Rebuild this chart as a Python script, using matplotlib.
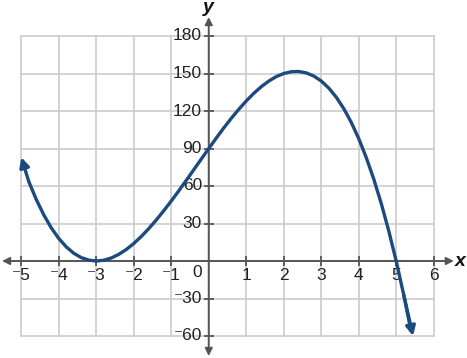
import matplotlib
matplotlib.use("Agg")
import matplotlib.pyplot as plt

plt.rcParams['font.family'] = ['Liberation Sans', 'DejaVu Sans']

# curve points
x_vals = [-5.0, -4.8, -4.6, -4.4, -4.2, -4.0, -3.8, -3.6, -3.4, -3.2, -3.0,
          -2.8, -2.6, -2.4, -2.2, -2.0, -1.8, -1.6, -1.4, -1.2, -1.0,
          -0.8, -0.6, -0.4, -0.2, 0.0, 0.2, 0.4, 0.6, 0.8, 1.0,
          1.2, 1.4, 1.6, 1.8, 2.0, 2.2, 2.4, 2.6, 2.8, 3.0,
          3.2, 3.4, 3.6, 3.8, 4.0, 4.2, 4.4, 4.6, 4.8, 5.0,
          5.2, 5.4, 5.45]
y_vals = [83, 63.5, 49.2, 36.9, 26.5, 18, 11.3, 6.2, 2.7, 0.7, 0,
          0.6, 2.4, 5.3, 9.2, 14, 19.6, 25.9, 32.8, 40.2, 48,
          56.1, 64.5, 73.0, 81.5, 90, 98.3, 106.4, 114.1, 121.3, 128,
          134.1, 139.4, 143.9, 147.5, 150, 151.4, 151.6, 150.5, 148.0, 144,
          138.4, 131.1, 122.0, 111.0, 98, 82.9, 65.7, 46.2, 24.3, 0,
          -26.9, -56.5, -60]

x_ticks = [-5, -4, -3, -2, -1, 1, 2, 3, 4, 5, 6]
y_ticks = [-60, -30, 30, 60, 90, 120, 150, 180]

blue = '#1c4a7e'
axc = '#555555'

fig = plt.figure(figsize=(4.67, 3.58), dpi=100)
ax = fig.add_axes([0, 0, 1, 1])
ax.set_axis_off()
ax.set_xlim(-5.568, 6.889)
ax.set_ylim(-77.6, 208.8)

# grid
for gx in range(-5, 7):
    ax.plot([gx, gx], [-60, 180], color='#cccccc', lw=1.2, zorder=1)
for gy in range(-60, 181, 30):
    ax.plot([-5, 6], [gy, gy], color='#cccccc', lw=1.2, zorder=1)

# axes with arrows
arr = dict(arrowstyle='-|>', color=axc, lw=1.4, mutation_scale=11,
           shrinkA=0, shrinkB=0)
ax.annotate('', xy=(-5.515, 0), xytext=(0, 0), arrowprops=arr, zorder=3)
ax.annotate('', xy=(6.54, 0), xytext=(0, 0), arrowprops=arr, zorder=3)
ax.annotate('', xy=(0, 195.2), xytext=(0, 0), arrowprops=arr, zorder=3)
ax.annotate('', xy=(0, -76), xytext=(0, 0), arrowprops=arr, zorder=3)

# ticks
ax.plot(x_ticks, [0] * len(x_ticks), ls='none', marker='|', ms=7,
        mew=1.3, color=axc, zorder=3)
ax.plot([0] * len(y_ticks), y_ticks, ls='none', marker='_', ms=7,
        mew=1.3, color=axc, zorder=3)

fs = 12.5
for t in x_ticks:
    lab = str(t).replace('-', '\u207b')
    ax.text(t, -12, lab, ha='center', va='center', fontsize=fs,
            color='#222222')
for t in y_ticks:
    lab = str(t).replace('-', '\u207b')
    ax.text(-0.18, t, lab, ha='right', va='center', fontsize=fs,
            color='#222222')
ax.text(-0.18, -9.5, '0', ha='right', va='center', fontsize=fs,
        color='#222222')

ax.text(6.7, 0, 'x', ha='center', va='center', fontsize=14,
        style='italic', fontweight='bold', color='#111111')
ax.text(0, 203, 'y', ha='center', va='center', fontsize=14,
        style='italic', fontweight='bold', color='#111111')

# curve
ax.plot(x_vals[1:-1], y_vals[1:-1], color=blue, lw=2.4, zorder=4,
        solid_capstyle='butt')
carr = dict(arrowstyle='-|>', color=blue, lw=2.4, mutation_scale=14,
            shrinkA=0, shrinkB=0)
ax.annotate('', xy=(x_vals[0], y_vals[0]), xytext=(x_vals[1], y_vals[1]),
            arrowprops=carr, zorder=5)
ax.annotate('', xy=(x_vals[-1], y_vals[-1]), xytext=(x_vals[-3], y_vals[-3]),
            arrowprops=carr, zorder=5)

fig.savefig('out.png', dpi=100)
